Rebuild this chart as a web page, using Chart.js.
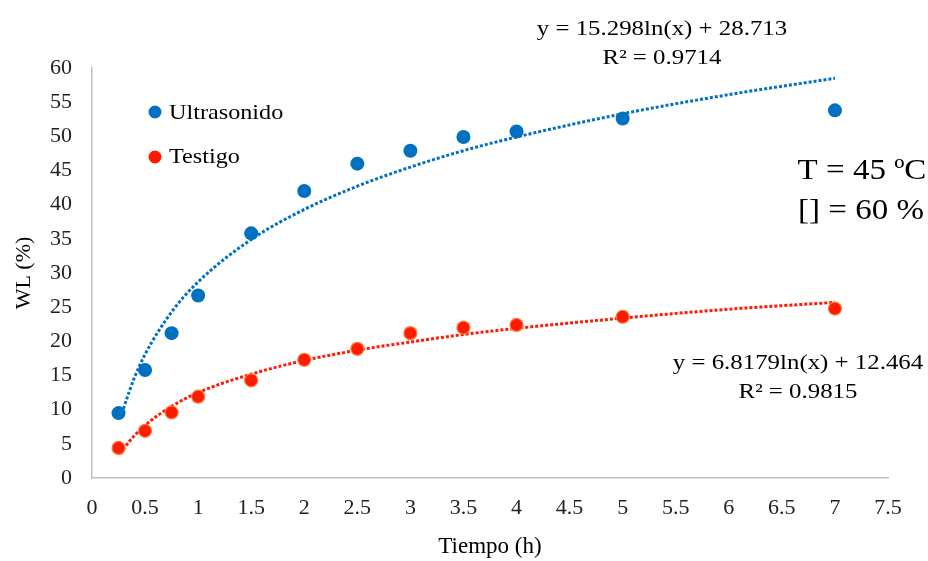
<!DOCTYPE html>
<html>
<head>
<meta charset="utf-8">
<script src="https://cdn.jsdelivr.net/npm/chart.js@4.4.0/dist/chart.umd.min.js"></script>
<style>
  html, body { margin: 0; padding: 0; background: #fff; }
  #wrap { width: 928px; height: 561px; }
</style>
</head>
<body>
<div id="wrap"><canvas id="grafica"></canvas></div>
<script>
// tiempos de muestreo (h)
var tiempos = [0.25, 0.5, 0.75, 1, 1.5, 2, 2.5, 3, 3.5, 4, 5, 7];
// perdida de agua WL (%)
var ultrasonido = [9.5, 15.8, 21.2, 26.7, 35.8, 42.0, 46.0, 47.9, 49.9, 50.7, 52.6, 53.8];
var testigo = [4.4, 6.9, 9.6, 11.9, 14.3, 17.3, 18.9, 21.2, 22.0, 22.4, 23.6, 24.8];

// lineas de tendencia
var tiemposTend = [0.27, 0.3, 0.35, 0.4, 0.5, 0.75, 1, 1.5, 2, 2.5, 3, 3.5, 4, 5, 6, 7];
var tendUltra = [8.7, 10.3, 12.6, 14.7, 18.1, 24.3, 28.7, 34.9, 39.3, 42.7, 45.5, 47.9, 49.9, 53.3, 56.1, 58.5];
var tendTestigo = [3.5, 4.3, 5.3, 6.2, 7.7, 10.5, 12.5, 15.2, 17.2, 18.7, 19.9, 21.0, 21.9, 23.4, 24.7, 25.7];

var ticksX = [0, 0.5, 1, 1.5, 2, 2.5, 3, 3.5, 4, 4.5, 5, 5.5, 6, 6.5, 7, 7.5];

var azul = '#0070C0';
var rojo = '#FF1A00';
var fuente = '"Liberation Serif", "Times New Roman", serif';

function puntos(xs, ys) {
    return xs.map(function(x, i) { return { x: x, y: ys[i] }; });
}

// texto un poco ensanchado como en Excel
function texto(c, str, x, y, ancho) {
    c.save();
    c.translate(x, y);
    c.scale(ancho, 1);
    c.fillText(str, 0, 0);
    c.restore();
}

// textos sobre la grafica (ecuaciones, leyenda, condiciones)
var textosPlugin = {
    id: 'textos',
    afterDraw: function(chart) {
        var c = chart.ctx;
        c.save();
        c.fillStyle = '#000';
        c.textBaseline = 'middle';

        // ecuaciones
        c.font = '22px ' + fuente;
        c.textAlign = 'center';
        texto(c, 'y = 15.298ln(x) + 28.713', 662, 29, 1.13);
        texto(c, 'R² = 0.9714', 662, 58, 1.13);
        texto(c, 'y = 6.8179ln(x) + 12.464', 798, 363, 1.13);
        texto(c, 'R² = 0.9815', 798, 392, 1.13);

        // condiciones
        c.font = '30px ' + fuente;
        texto(c, 'T = 45 ºC', 862, 171, 1.1);
        texto(c, '[] = 60 %', 861, 211, 1.1);

        // leyenda
        c.fillStyle = azul;
        c.beginPath(); c.arc(155, 112, 6.5, 0, Math.PI * 2); c.fill();
        c.fillStyle = rojo;
        c.beginPath(); c.arc(155, 157, 6.5, 0, Math.PI * 2); c.fill();
        c.fillStyle = '#000';
        c.font = '22px ' + fuente;
        c.textAlign = 'left';
        texto(c, 'Ultrasonido', 169, 113, 1.1);
        texto(c, 'Testigo', 169, 157, 1.1);
        c.restore();
    }
};

var ctx = document.getElementById('grafica').getContext('2d');
var grafica = new Chart(ctx, {
    type: 'scatter',
    data: {
        datasets: [
            {
                label: 'Tendencia Ultrasonido',
                data: puntos(tiemposTend, tendUltra),
                showLine: true,
                borderColor: azul,
                borderWidth: 3,
                borderDash: [3, 2],
                pointRadius: 0,
                cubicInterpolationMode: 'monotone',
                order: 3
            },
            {
                label: 'Tendencia Testigo',
                data: puntos(tiemposTend, tendTestigo),
                showLine: true,
                borderColor: rojo,
                borderWidth: 3,
                borderDash: [3, 2],
                pointRadius: 0,
                cubicInterpolationMode: 'monotone',
                order: 3
            },
            {
                label: 'Ultrasonido',
                data: puntos(tiempos, ultrasonido),
                backgroundColor: azul,
                borderColor: azul,
                pointRadius: 7,
                pointBorderWidth: 0,
                order: 1
            },
            {
                label: 'Testigo',
                data: puntos(tiempos, testigo),
                backgroundColor: rojo,
                borderColor: '#FF7A3A',
                pointRadius: 6.5,
                pointBorderWidth: 1.2,
                order: 1
            }
        ]
    },
    options: {
        responsive: true,
        maintainAspectRatio: false,
        animation: false,
        layout: { padding: { top: 68, right: 40, left: 5, bottom: 0 } },
        plugins: {
            legend: { display: false },
            tooltip: { enabled: false }
        },
        scales: {
            x: {
                type: 'linear',
                min: 0,
                max: 7.5,
                afterBuildTicks: function(axis) {
                    axis.ticks = ticksX.map(function(v) { return { value: v }; });
                },
                afterFit: function(axis) { axis.height = 83; },
                grid: { display: false, drawTicks: false },
                border: { display: true, color: '#BFBFBF', width: 1.5 },
                ticks: {
                    padding: 17,
                    color: '#222',
                    font: { family: fuente, size: 22 },
                    maxRotation: 0,
                    callback: function(v) { return String(v); }
                },
                title: {
                    display: true,
                    text: 'Tiempo (h)',
                    color: '#000',
                    font: { family: fuente, size: 23 },
                    padding: { top: 8, bottom: 0 }
                }
            },
            y: {
                min: 0,
                max: 60,
                afterFit: function(axis) { axis.width = 87; },
                grid: { display: false, drawTicks: false },
                border: { display: true, color: '#BFBFBF', width: 1.5 },
                ticks: {
                    stepSize: 5,
                    padding: 20,
                    color: '#222',
                    font: { family: fuente, size: 22 }
                },
                title: {
                    display: true,
                    text: 'WL (%)',
                    color: '#000',
                    font: { family: fuente, size: 22 },
                    padding: { top: 6, bottom: 12 }
                }
            }
        }
    },
    plugins: [textosPlugin]
});
</script>
</body>
</html>
